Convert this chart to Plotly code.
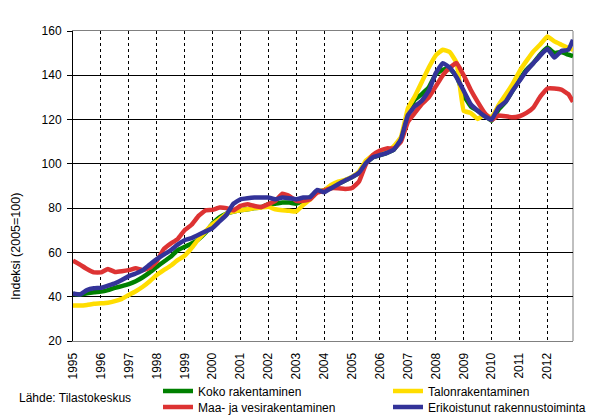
import plotly.graph_objects as go

# Quarterly sample points (decimal year)
years_x = [1995 + i * 0.25 for i in range(72)] + [2012.917]

koko = [41.2, 41.0, 41.5, 42.0, 42.3, 43.0, 44.0, 44.8, 45.7, 47.0, 48.8, 51.0,
        53.5, 55.8, 58.0, 61.0, 62.5, 64.0, 66.0, 69.0, 73.0, 75.8, 77.5, 78.5,
        79.0, 79.5, 80.0, 80.5, 81.8, 82.0, 82.5, 82.5, 82.0, 83.3, 85.0, 87.5,
        88.0, 89.5, 91.0, 92.5, 94.0, 96.0, 100.5, 103.0, 104.0, 105.0, 106.5, 111.0,
        123.0, 129.0, 131.5, 134.5, 140.5, 142.5, 143.0, 139.5, 131.0, 126.0, 124.0, 122.0,
        119.5, 124.5, 128.0, 133.0, 138.0, 142.5, 145.6, 149.5, 152.5, 150.0, 150.5, 149.3,
        148.6]

talon = [36.0, 36.0, 36.3, 36.8, 37.0, 37.3, 38.0, 39.0, 40.8, 42.5, 44.5, 47.0,
         49.8, 52.0, 54.0, 56.5, 58.5, 62.0, 66.0, 69.5, 72.7, 75.0, 77.5, 78.5,
         79.0, 79.5, 80.0, 80.3, 80.6, 79.5, 79.0, 78.8, 78.5, 81.5, 84.0, 87.5,
         88.0, 90.5, 92.0, 92.8, 94.1, 96.5, 101.5, 104.0, 105.0, 105.5, 108.0, 112.0,
         125.0, 130.5, 137.0, 143.5, 149.0, 151.5, 150.5, 145.5, 124.0, 123.0, 120.3, 122.3,
         121.0, 126.5, 131.2, 136.0, 141.8, 146.5, 150.8, 154.0, 157.5, 155.3, 153.8, 152.3,
         151.5]

maa = [56.3, 54.5, 52.5, 51.0, 51.0, 52.5, 51.2, 51.5, 52.0, 52.8, 52.0, 53.0,
       56.0, 61.5, 64.0, 66.0, 70.0, 72.5, 76.5, 79.0, 79.2, 80.3, 80.0, 79.0,
       81.0, 81.8, 81.0, 80.5, 81.8, 83.3, 86.5, 85.5, 83.3, 83.3, 84.0, 87.0,
       88.0, 89.0, 89.0, 88.7, 89.1, 92.0, 100.0, 104.0, 106.0, 107.0, 107.0, 110.0,
       119.0, 123.0, 127.0, 130.0, 135.0, 140.0, 143.4, 145.5, 140.0, 133.5, 128.0, 123.0,
       119.8, 121.8, 121.5, 121.0, 121.5, 123.0, 125.5, 130.5, 134.0, 134.0, 133.5, 131.5,
       128.0]

erik = [41.5, 41.0, 43.0, 43.8, 44.0, 45.0, 46.0, 47.5, 49.3, 50.5, 52.0, 54.5,
        57.0, 59.0, 61.0, 63.5, 65.5, 66.5, 68.0, 69.5, 71.0, 74.0, 77.0, 82.0,
        84.0, 84.5, 84.8, 84.8, 84.8, 84.0, 84.8, 84.5, 84.0, 84.8, 85.0, 88.2,
        87.2, 89.0, 90.8, 92.5, 94.0, 96.0, 100.4, 103.0, 104.0, 105.0, 106.5, 111.0,
        122.0, 126.0, 128.5, 133.0, 141.0, 145.5, 143.5, 139.0, 133.0, 127.0, 124.0, 121.5,
        120.0, 125.5, 128.0, 133.0, 137.5, 142.0, 145.5, 149.0, 152.0, 148.0, 151.0, 151.5,
        156.0]

tick_years = list(range(1995, 2013))
y_ticks = [20, 40, 60, 80, 100, 120, 140, 160]

series = [
    ("Koko rakentaminen", koko, "#008000", "legend"),
    ("Talonrakentaminen", talon, "#FFDD00", "legend2"),
    ("Maa- ja vesirakentaminen", maa, "#DD3333", "legend3"),
    ("Erikoistunut rakennustoiminta", erik, "#333399", "legend4"),
]

FONT = "Arial, 'Liberation Sans', sans-serif"
L, R, T, B = 73, 43, 31, 75
W, H = 616, 416
PW, PH = W - L - R, H - T - B


def px_x(px):
    return (px - L) / PW


def px_y(py):
    return (H - B - py) / PH


fig = go.Figure()
for name, vals, color, lg in series:
    fig.add_trace(go.Scatter(
        x=years_x, y=vals, mode="lines", name=name,
        line=dict(color=color, width=4.5, shape="spline", smoothing=0.3),
        legend=lg,
    ))

leg_pos = {
    "legend": (158, 391),
    "legend2": (388, 391),
    "legend3": (158, 407),
    "legend4": (388, 407),
}
legend_cfg = {}
for key, (lx, ly) in leg_pos.items():
    legend_cfg[key] = dict(
        x=px_x(lx), y=px_y(ly), xanchor="left", yanchor="middle",
        bgcolor="rgba(0,0,0,0)", borderwidth=0,
        font=dict(family=FONT, size=12, color="black"),
        itemwidth=30, tracegroupgap=0,
    )

fig.update_layout(
    width=W, height=H,
    margin=dict(l=L, r=R, t=T, b=B, pad=0, autoexpand=False),
    paper_bgcolor="white", plot_bgcolor="white",
    font=dict(family=FONT, size=12, color="black"),
    showlegend=True,
    **legend_cfg,
    xaxis=dict(
        range=[1995, 2012.917], tickmode="array", tickvals=tick_years,
        ticktext=[str(y) for y in tick_years], tickangle=-90,
        showgrid=True, gridcolor="black", gridwidth=1, griddash="3px,3px",
        showline=True, linecolor="#808080", linewidth=1, mirror=True,
        ticks="", ticklabelstandoff=6, zeroline=False, automargin=False,
        tickfont=dict(family=FONT, size=12, color="black"),
    ),
    yaxis=dict(
        range=[20, 160], tickmode="array", tickvals=y_ticks,
        showgrid=True, gridcolor="black", gridwidth=1,
        showline=True, linecolor="black", linewidth=1,
        ticks="outside", ticklen=5, tickcolor="black", ticklabelstandoff=3,
        zeroline=False, automargin=False,
        tickfont=dict(family=FONT, size=12, color="black"),
    ),
    shapes=[
        dict(type="line", xref="paper", yref="paper", x0=1, x1=1, y0=0, y1=1,
             line=dict(color="#808080", width=1), layer="below"),
    ],
    annotations=[
        dict(text="Indeksi (2005=100)", textangle=-90, xref="paper", yref="paper",
             x=px_x(16), y=px_y(247), xanchor="center", yanchor="middle",
             showarrow=False, font=dict(family=FONT, size=12.5, color="black")),
        dict(text="Lähde: Tilastokeskus", xref="paper", yref="paper",
             x=px_x(17), y=px_y(398), xanchor="left", yanchor="middle",
             showarrow=False, font=dict(family=FONT, size=12, color="black")),
    ],
)

fig.write_html("out.html")
